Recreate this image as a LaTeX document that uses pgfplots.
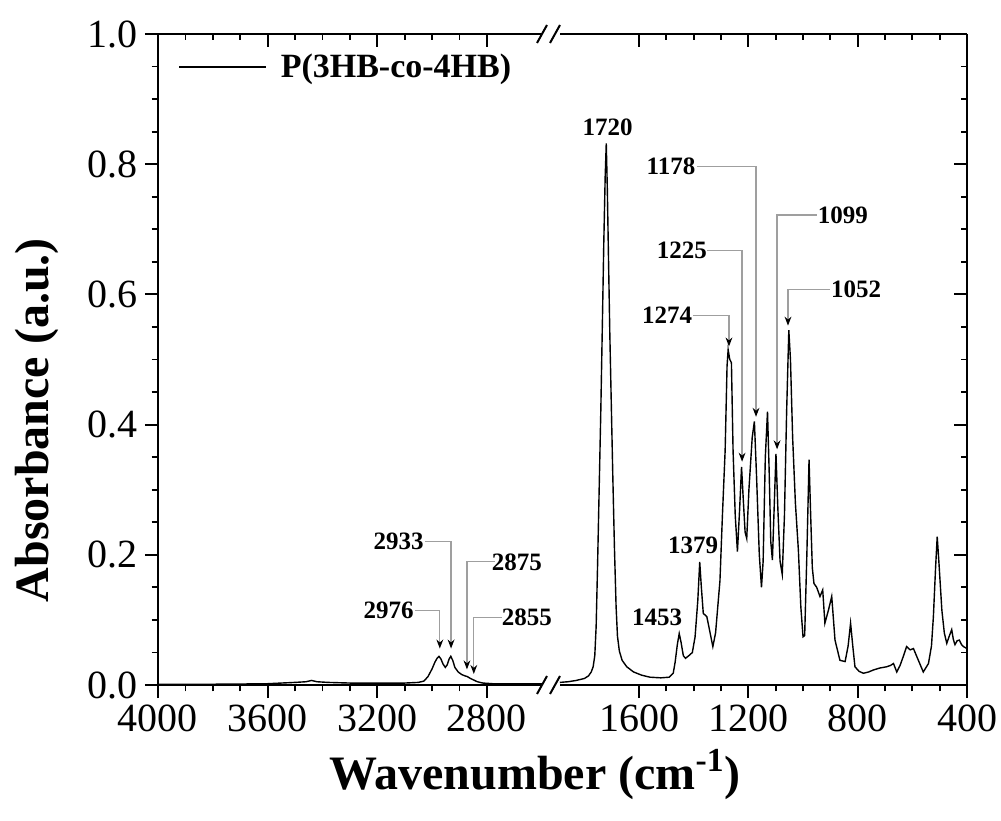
\documentclass[border=0pt]{standalone}
\usepackage{fontspec}
\setmainfont{Liberation Serif}
\usepackage{pgfplots}
\pgfplotsset{compat=1.18}
\usetikzlibrary{arrows.meta}

\pgfplotsset{
  ftir/.style={
    scale only axis, height=325.5pt, ymin=0, ymax=1, x dir=reverse,
    axis line style={line width=1pt,-},
    every tick/.style={black, line width=0.9pt},
    major tick length=6.5pt, minor tick length=3.2pt,
    minor x tick num=3, minor y tick num=3,
    ytick={0,0.2,0.4,0.6,0.8,1.0},
    tick label style={font=\fontsize{20}{24}\selectfont},
    /pgf/number format/assume math mode=true,
    /pgf/number format/1000 sep={},
    yticklabel style={/pgf/number format/.cd, fixed, fixed zerofill, precision=1},
    clip=false,
  },
}
\tikzset{
  pk/.style={font=\bfseries\fontsize{12.5}{14}\selectfont, inner sep=0pt},
  lead/.style={gray!75, line width=0.6pt, -{Stealth[length=4.5pt,width=3.4pt,color=black]}},
  spec/.style={black, line width=0.7pt},
}

\begin{document}
\begin{tikzpicture}
\useasboundingbox (0,0) rectangle (500.5pt,410pt);

% ---- left part, 4000-2600 ----
\begin{axis}[ftir, at={(79pt,67.5pt)}, anchor=south west, width=191.9pt,
  xmin=2600, xmax=4000, xtick={2800,3200,3600,4000},
  axis x line*=box, axis y line*=left, xtick pos=bottom, ytick pos=left,
  tick align=outside,
  xlabel={Wavenumber (cm\textsuperscript{-1})},
  ylabel={Absorbance (a.u.)},
  label style={font=\bfseries\fontsize{24}{28}\selectfont},
  xlabel style={at={(axis description cs:0.982,-0.138)}, anchor=center},
  ylabel style={at={(axis description cs:-0.315,0.407)}, anchor=center},
  legend style={draw=none, fill=none, at={(axis description cs:0.052,0.949)},
    anchor=west, inner sep=0pt, font=\bfseries\fontsize{17}{20}\selectfont},
  legend image code/.code={\draw[#1] (0pt,0pt) -- (43.5pt,0pt); \path (48.5pt,0pt);},
]
\addplot[spec] table {
4000 0.001
3900 0.001
3800 0.0012
3700 0.0015
3600 0.002
3550 0.003
3500 0.004
3460 0.005
3440 0.007
3420 0.005
3380 0.004
3300 0.003
3200 0.003
3100 0.003
3050 0.004
3030 0.006
3015 0.013
3000 0.025
2990 0.035
2982 0.041
2975 0.044
2968 0.040
2960 0.032
2952 0.027
2945 0.031
2938 0.040
2932 0.044
2925 0.038
2917 0.027
2905 0.020
2892 0.016
2880 0.014
2872 0.013
2860 0.010
2850 0.008
2835 0.005
2815 0.003
2780 0.002
2700 0.002
2600 0.002
};
\addlegendentry{P(3HB-co-4HB)}

\node[pk] at (axis cs:3159,0.114) {2976};
\node[pk] at (axis cs:3122,0.220) {2933};
\node[pk] at (axis cs:2691,0.188) {2875};
\node[pk] at (axis cs:2654,0.104) {2855};
\draw[lead] (axis cs:3063,0.114) -- (axis cs:2972,0.114) -- (axis cs:2972,0.056);
\draw[lead] (axis cs:3026,0.220) -- (axis cs:2931,0.220) -- (axis cs:2931,0.056);
\draw[lead] (axis cs:2771,0.190) -- (axis cs:2873,0.190) -- (axis cs:2873,0.024);
\draw[lead] (axis cs:2745,0.104) -- (axis cs:2848,0.104) -- (axis cs:2848,0.017);
\end{axis}
% inward ticks on top of the left part
\begin{axis}[ftir, at={(79pt,67.5pt)}, anchor=south west, width=191.9pt,
  xmin=2600, xmax=4000, xtick={2800,3200,3600,4000},
  axis line style={draw=none}, tick align=inside,
  xtick pos=top, ytick=\empty, xticklabels={},
]
\end{axis}

% ---- right part, 1890-400 ----
\begin{axis}[ftir, at={(279.9pt,67.5pt)}, anchor=south west, width=203.6pt,
  xmin=400, xmax=1890, xtick={400,800,1200,1600},
  axis x line*=box, axis y line*=right, xtick pos=bottom, ytick=\empty,
  tick align=outside,
]
\addplot[spec] table {
1890 0.004
1860 0.005
1830 0.007
1800 0.010
1785 0.014
1775 0.020
1768 0.028
1762 0.045
1757 0.090
1752 0.180
1746 0.300
1740 0.420
1734 0.560
1729 0.680
1724 0.780
1720 0.832
1716 0.760
1712 0.660
1707 0.540
1701 0.420
1696 0.320
1690 0.210
1684 0.120
1679 0.075
1672 0.052
1662 0.038
1645 0.028
1620 0.020
1590 0.015
1560 0.012
1520 0.011
1490 0.012
1475 0.018
1468 0.035
1460 0.062
1453 0.079
1446 0.065
1438 0.045
1430 0.041
1415 0.046
1405 0.050
1395 0.074
1385 0.130
1378 0.189
1372 0.150
1365 0.110
1352 0.105
1340 0.080
1330 0.059
1320 0.080
1310 0.130
1304 0.160
1295 0.260
1285 0.360
1278 0.490
1274 0.515
1268 0.500
1262 0.495
1256 0.360
1248 0.260
1240 0.205
1232 0.270
1225 0.335
1218 0.280
1212 0.235
1206 0.225
1198 0.300
1186 0.380
1178 0.405
1170 0.320
1160 0.200
1152 0.150
1146 0.190
1138 0.350
1130 0.420
1124 0.330
1118 0.220
1112 0.192
1105 0.280
1099 0.355
1092 0.270
1084 0.190
1076 0.170
1068 0.260
1060 0.420
1052 0.545
1046 0.500
1038 0.380
1028 0.280
1017 0.207
1008 0.120
1000 0.074
994 0.076
986 0.200
978 0.346
972 0.260
966 0.180
960 0.156
950 0.150
938 0.136
928 0.146
920 0.095
907 0.115
895 0.136
883 0.069
865 0.038
846 0.036
835 0.060
826 0.095
818 0.060
810 0.028
795 0.021
779 0.018
760 0.020
743 0.023
720 0.026
694 0.028
680 0.030
669 0.033
657 0.020
645 0.030
633 0.044
621 0.059
608 0.054
596 0.056
578 0.038
560 0.020
541 0.033
530 0.060
523 0.105
515 0.180
509 0.228
503 0.190
492 0.115
483 0.080
474 0.064
465 0.075
456 0.085
450 0.070
444 0.062
436 0.068
428 0.069
420 0.062
413 0.059
400 0.056
};

\node[pk] at (axis cs:1715,0.857) {1720};
\node[pk] at (axis cs:1534,0.104) {1453};
\node[pk] at (axis cs:1402,0.215) {1379};
\node[pk] at (axis cs:1497,0.568) {1274};
\node[pk] at (axis cs:1443,0.667) {1225};
\node[pk] at (axis cs:1483,0.797) {1178};
\node[pk] at (axis cs:854,0.722) {1099};
\node[pk] at (axis cs:806,0.608) {1052};
\draw[lead] (axis cs:1402,0.568) -- (axis cs:1271,0.568) -- (axis cs:1271,0.520);
\draw[lead] (axis cs:1351,0.667) -- (axis cs:1223,0.667) -- (axis cs:1223,0.343);
\draw[lead] (axis cs:1388,0.797) -- (axis cs:1172,0.797) -- (axis cs:1172,0.412);
\draw[lead] (axis cs:949,0.722) -- (axis cs:1095,0.722) -- (axis cs:1095,0.362);
\draw[lead] (axis cs:901,0.608) -- (axis cs:1055,0.608) -- (axis cs:1055,0.552);
\end{axis}
% inward ticks on top and right of the right part
\begin{axis}[ftir, at={(279.9pt,67.5pt)}, anchor=south west, width=203.6pt,
  xmin=400, xmax=1890, xtick={400,800,1200,1600},
  axis line style={draw=none}, tick align=inside,
  xtick pos=top, ytick pos=right, xticklabels={}, yticklabels={},
]
\end{axis}

% axis break marks
\foreach \yy in {67.5pt,393pt}{
  \draw[line width=1pt] (268.5pt,\yy-4.5pt) -- (273.5pt,\yy+4.5pt);
  \draw[line width=1pt] (275pt,\yy-4.5pt) -- (280pt,\yy+4.5pt);
}
\end{tikzpicture}
\end{document}
